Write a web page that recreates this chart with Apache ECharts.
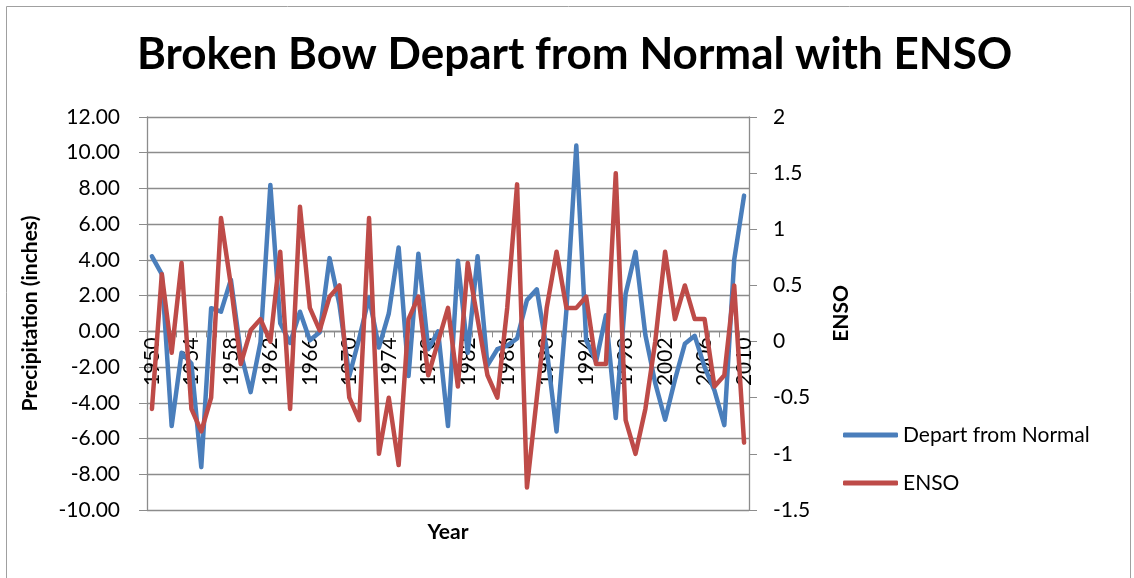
<!DOCTYPE html>
<html>
<head>
<meta charset="utf-8">
<title>Broken Bow Depart from Normal with ENSO</title>
<script src="https://cdn.jsdelivr.net/npm/echarts@6/dist/echarts.min.js"></script>
<style>
	html, body { margin: 0; padding: 0; background: #fff; }
	#main { width: 1134px; height: 578px; }
</style>
</head>
<body>
	<div id="main"></div>
<script type="text/javascript">
	// years on the category axis
	var years = [];
	for (var y = 1950; y <= 2010; y++) {
		years.push(String(y));
	}
	// departure from normal precipitation (inches), 1950-2010
	var departFromNormal = [
		4.2, 3.2, -5.3, -1.2, -1.8, -7.6, 1.3, 1.1, 2.9, -1.2,
		-3.4, -0.6, 8.2, 0.45, -0.65, 1.1, -0.5, -0.05, 4.1, 1.5,
		-2.5, -0.4, 1.9, -0.9, 1.0, 4.7, -2.5, 4.35, -1.0, 0.0,
		-5.3, 3.95, -1.2, 4.2, -1.9, -1.0, -0.8, -0.4, 1.75, 2.35,
		-1.0, -5.6, 1.2, 10.4, -0.5, -1.7, 0.9, -4.85, 2.1, 4.45,
		-0.2, -2.9, -4.95, -2.7, -0.7, -0.25, -2.0, -3.3, -5.25, 4.0,
		7.6
	];
	// ENSO index, 1950-2010
	var enso = [
		-0.6, 0.6, -0.1, 0.7, -0.6, -0.8, -0.5, 1.1, 0.5, -0.2,
		0.1, 0.2, 0.0, 0.8, -0.6, 1.2, 0.3, 0.1, 0.4, 0.5,
		-0.5, -0.7, 1.1, -1.0, -0.5, -1.1, 0.2, 0.4, -0.3, 0.0,
		0.3, -0.4, 0.7, 0.2, -0.3, -0.5, 0.3, 1.4, -1.3, -0.5,
		0.3, 0.8, 0.3, 0.3, 0.4, -0.2, -0.2, 1.5, -0.7, -1.0,
		-0.6, 0.0, 0.8, 0.2, 0.5, 0.2, 0.2, -0.4, -0.3, 0.5,
		-0.9
	];

	var gridColor = '#8c8c8c';
	var fontName = 'Lato';

	// plot box in pixels
	var gridTop = 117, gridBottom = 68, chartHeight = 578;
	var leftMin = -10, leftMax = 12;
	// move the category axis up to the 0 line of the left axis
	var plotH = chartHeight - gridTop - gridBottom;
	var zeroShift = -plotH * (0 - leftMin) / (leftMax - leftMin);

	var chart = echarts.init(document.getElementById('main'), null, { renderer: 'canvas' });

	var option = {
		animation: false,
		textStyle: { fontFamily: fontName, color: '#000' },
		title: {
			text: 'Broken Bow Depart from Normal with ENSO',
			left: 132,
			top: 28,
			textStyle: { fontFamily: fontName, fontSize: 44, fontWeight: 'bold', color: '#000' }
		},
		// outer chart border
		graphic: [ {
			type: 'rect',
			shape: { x: 6.5, y: 6.5, width: 1124, height: 600 },
			style: { fill: 'none', stroke: '#a0a0a0', lineWidth: 1 },
			silent: true
		} ],
		legend: {
			orient: 'vertical',
			left: 838,
			top: 418,
			itemWidth: 55,
			itemHeight: 5,
			itemGap: 24,
			icon: 'roundRect',
			textStyle: { fontFamily: fontName, fontSize: 21, color: '#000', lineHeight: 24 },
			data: [ 'Depart from Normal', 'ENSO' ]
		},
		grid: {
			left: 147,
			right: 385,
			top: gridTop,
			bottom: gridBottom,
			containLabel: false,
			outerBoundsMode: 'none'
		},
		xAxis: {
			type: 'category',
			data: years,
			boundaryGap: true,
			position: 'bottom',
			offset: zeroShift,
			name: 'Year',
			nameLocation: 'middle',
			nameGap: 190,
			nameTextStyle: { fontFamily: fontName, fontSize: 21, fontWeight: 'bold', color: '#000' },
			axisLine: { onZero: false, lineStyle: { color: gridColor, width: 1.3 } },
			axisTick: { show: true, interval: 0, length: 6, lineStyle: { color: gridColor } },
			axisLabel: { interval: 3, rotate: 90, margin: 6, fontSize: 21, color: '#000' },
			splitLine: { show: false }
		},
		yAxis: [ {
			type: 'value',
			min: leftMin,
			max: leftMax,
			interval: 2,
			position: 'left',
			name: 'Precipitation (inches)',
			nameLocation: 'middle',
			nameRotate: 90,
			nameGap: 106,
			nameTextStyle: { fontFamily: fontName, fontSize: 21, fontWeight: 'bold', color: '#000' },
			axisLine: { show: true, lineStyle: { color: gridColor, width: 1.3 } },
			axisTick: { show: true, length: 8, lineStyle: { color: gridColor } },
			axisLabel: {
				margin: 27,
				fontSize: 21,
				color: '#000',
				formatter: function(v) { return v.toFixed(2); }
			},
			splitLine: { show: true, lineStyle: { color: gridColor, width: 1.3 } }
		}, {
			type: 'value',
			min: -1.5,
			max: 2,
			interval: 0.5,
			position: 'right',
			name: 'ENSO',
			nameLocation: 'middle',
			nameRotate: 90,
			nameGap: 82,
			nameTextStyle: { fontFamily: fontName, fontSize: 21, fontWeight: 'bold', color: '#000' },
			axisLine: { show: true, lineStyle: { color: gridColor, width: 1.3 } },
			axisTick: { show: true, length: 8, lineStyle: { color: gridColor } },
			axisLabel: { margin: 24, fontSize: 21, color: '#000' },
			splitLine: { show: false }
		} ],
		series: [ {
			name: 'Depart from Normal',
			type: 'line',
			yAxisIndex: 0,
			data: departFromNormal,
			showSymbol: false,
			symbol: 'none',
			color: '#4A7EBB',
			lineStyle: { width: 4.5, color: '#4A7EBB', cap: 'round', join: 'round' }
		}, {
			name: 'ENSO',
			type: 'line',
			yAxisIndex: 1,
			data: enso,
			showSymbol: false,
			symbol: 'none',
			color: '#BE4B48',
			lineStyle: { width: 4.5, color: '#BE4B48', cap: 'round', join: 'round' }
		} ]
	};
	chart.setOption(option);
</script>
</body>
</html>
